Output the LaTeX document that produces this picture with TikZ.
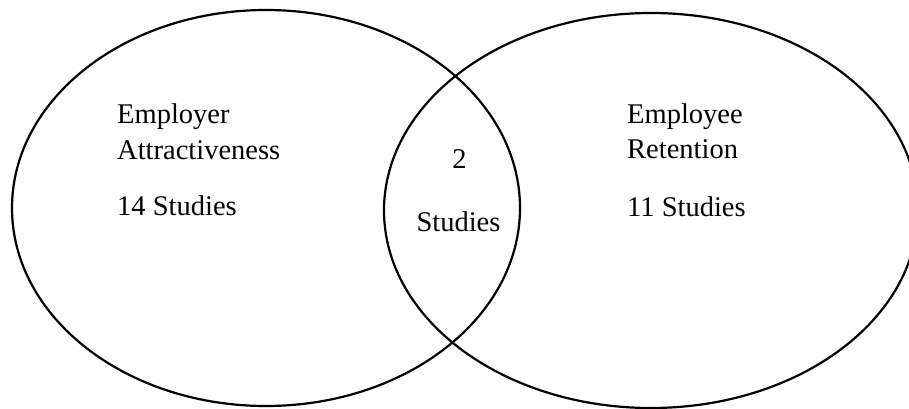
\documentclass[tikz,border=0pt]{standalone}
\usepackage{fontspec}
\setmainfont{Liberation Serif}
\usetikzlibrary{shapes.geometric}

\begin{document}
\begin{tikzpicture}[x=1pt, y=-1pt]
    \tikzset{
        set/.style={draw, ellipse, line width=2.2pt, inner sep=0pt}, % the two study sets
        txt/.style={inner sep=0pt, anchor=base west, font=\fontsize{28.5}{36}\selectfont}, % labels
        }
    \useasboundingbox (0,0) rectangle (909,409);

    % sets
    \node[set, minimum width=508pt, minimum height=396pt] (employer_set) at (266,208) {};
    \node[set, minimum width=534pt, minimum height=395pt] (employee_set) at (651,210.5) {};

    % employer attractiveness labels
    \node[txt] (employer_title) at (117,123) {Employer};
    \node[txt] (employer_sub) at (117,159) {Attractiveness};
    \node[txt] (employer_count) at (117,215) {14 Studies};

    % employee retention labels
    \node[txt] (employee_title) at (627,123) {Employee};
    \node[txt] (employee_sub) at (627,158) {Retention};
    \node[txt] (employee_count) at (627,216) {11 Studies};

    % overlap labels
    \node[txt, anchor=base] (overlap_count) at (459.5,168) {2};
    \node[txt, anchor=base] (overlap_sub) at (458.5,231) {Studies};
\end{tikzpicture}
\end{document}
